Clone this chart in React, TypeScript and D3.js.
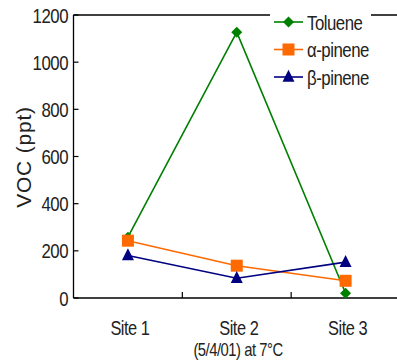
import React from "react";
import * as d3 from "d3";

const sites = ["Site 1", "Site 2", "Site 3"];
const toluene = [258, 1127, 20];
const alphaPinene = [243, 137, 73];
const betaPinene = [180, 84, 152];
const yTicks = [0, 200, 400, 600, 800, 1000, 1200];
const seriesNames = ["Toluene", "α-pinene", "β-pinene"];
const seriesColors = ["#008000", "#FF6A00", "#000080"];
const seriesMarkers = ["diamond", "square", "triangle"];

const W = 397, H = 361;
const left = 73.5, top = 15, bottom = 298, right = 400;
const FONT = "'Liberation Sans', Arial, sans-serif";
const SX = 0.8;

function NText({ x, y, anchor = "start", size = 21, children }: any) {
  return (
    <g transform={`translate(${x},${y}) scale(${SX},1)`}>
      <text x={0} y={0} textAnchor={anchor} fontSize={size} letterSpacing={-0.6} fill="#222">
        {children}
      </text>
    </g>
  );
}

function Marker({ type, x, y, color }: { type: string; x: number; y: number; color: string }) {
  if (type === "diamond") {
    const s = 5.5;
    return <path d={`M${x},${y - s} L${x + s},${y} L${x},${y + s} L${x - s},${y} Z`} fill={color} />;
  }
  if (type === "square") {
    const s = 6;
    return <rect x={x - s} y={y - s} width={2 * s} height={2 * s} fill={color} />;
  }
  const h = 12, w = 12;
  return <path d={`M${x},${y - h * 0.6} L${x + w / 2},${y + h * 0.4} L${x - w / 2},${y + h * 0.4} Z`} fill={color} />;
}

export default function App() {
  const x = d3.scaleBand().domain(sites).range([left, right]);
  const y = d3.scaleLinear().domain([0, 1200]).range([bottom, top]);
  const series = [toluene, alphaPinene, betaPinene];
  const cx = (i: number) => (x(sites[i]) as number) + x.bandwidth() / 2;
  const line = d3
    .line<number>()
    .x((_, i) => cx(i))
    .y((d) => y(d));
  const boundaries = sites.slice(1).map((s) => x(s) as number);

  return (
    <svg width={W} height={H} style={{ position: "absolute", left: 0, top: 0, background: "#fff" }} fontFamily={FONT}>
      <rect width={W} height={H} fill="#fff" />
      <line x1={left} x2={left} y1={top} y2={bottom} stroke="#000" strokeWidth={1.3} />
      <line x1={left} x2={W} y1={bottom} y2={bottom} stroke="#000" strokeWidth={1.3} />
      <line x1={left} x2={W} y1={top} y2={top} stroke="#000" strokeWidth={1.3} />
      {yTicks.map((t) => (
        <g key={t}>
          <line x1={left} x2={left + 5} y1={y(t)} y2={y(t)} stroke="#000" strokeWidth={1.2} />
          <NText x={68} y={y(t) + 7.5} anchor="end">{t}</NText>
        </g>
      ))}
      {boundaries.map((b, i) => (
        <line key={i} x1={b} x2={b} y1={bottom} y2={bottom - 6} stroke="#000" strokeWidth={1.2} />
      ))}
      {sites.map((s, i) => (
        <NText key={s} x={cx(i) + 2} y={335} anchor="middle" size={20.5}>{s}</NText>
      ))}
      <NText x={238} y={356} anchor="middle" size={18.5}>(5/4/01) at 7°C</NText>
      <text
        transform={`translate(31,157) rotate(-90)`}
        textAnchor="middle"
        fontSize={21}
        letterSpacing={0.8}
        fill="#222"
      >
        VOC (ppt)
      </text>
      {series.map((vals, si) => (
        <path key={si} d={line(vals) as string} fill="none" stroke={seriesColors[si]} strokeWidth={1.6} />
      ))}
      {series.map((vals, si) => (
        <g key={si}>
          {vals.map((v, i) => (
            <Marker key={i} type={seriesMarkers[si]} x={cx(i)} y={y(v)} color={seriesColors[si]} />
          ))}
        </g>
      ))}
      <rect x={270} y={6} width={101} height={86} fill="#fff" />
      {seriesNames.map((n, i) => {
        const ly = 22 + i * 27.5;
        return (
          <g key={n}>
            <line x1={274} x2={303} y1={ly} y2={ly} stroke={seriesColors[i]} strokeWidth={1.6} />
            <Marker type={seriesMarkers[i]} x={288.5} y={ly} color={seriesColors[i]} />
            <NText x={307} y={ly + 7.5}>{n}</NText>
          </g>
        );
      })}
    </svg>
  );
}
